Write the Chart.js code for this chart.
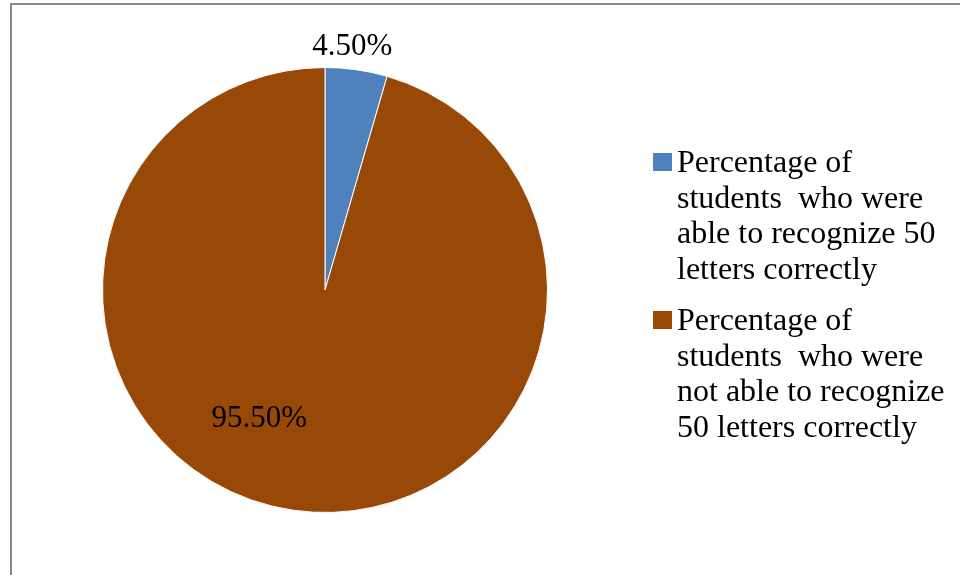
<!DOCTYPE html>
<html>
<head>
<meta charset="utf-8">
<script src="https://cdn.jsdelivr.net/npm/chart.js@4/dist/chart.umd.min.js"></script>
<style>
  html, body { margin: 0; padding: 0; background: #fff; }
  #wrap { position: relative; width: 960px; height: 575px; }
</style>
</head>
<body>
<div id="wrap"><canvas id="chart" width="960" height="575"></canvas></div>
<script>
// Chart data
const categories = [
  ['Percentage of', 'students  who were', 'able to recognize 50', 'letters correctly'],
  ['Percentage of', 'students  who were', 'not able to recognize', '50 letters correctly']
];
const values = [4.5, 95.5];
const valueLabels = ['4.50%', '95.50%'];
const sliceColors = ['#4F81BD', '#984807'];

const SERIF = '"Liberation Serif", "Times New Roman", serif';

// Grey frame line (left and top edges only, the rest is cropped)
const framePlugin = {
  id: 'frame',
  beforeDraw(chart) {
    const ctx = chart.ctx;
    ctx.save();
    ctx.fillStyle = '#888888';
    ctx.fillRect(10, 3, 2, chart.height - 3);
    ctx.fillRect(10, 3, chart.width - 10, 2);
    ctx.restore();
  }
};

// Percentage labels, placed like Excel's best fit
const labelPlugin = {
  id: 'sliceLabels',
  afterDatasetsDraw(chart, args, opts) {
    const ctx = chart.ctx;
    const arcs = chart.getDatasetMeta(0).data;
    ctx.save();
    ctx.font = '31px ' + SERIF;
    ctx.fillStyle = '#000';
    ctx.textAlign = 'center';
    ctx.textBaseline = 'middle';
    arcs.forEach((arc, i) => {
      const p = arc.getProps(['x', 'y', 'startAngle', 'endAngle', 'outerRadius'], true);
      const place = opts.placement[i];
      const mid = (p.startAngle + p.endAngle) / 2;
      const ang = mid + place.shift;
      const r = p.outerRadius * place.radius;
      ctx.fillText(valueLabels[i], p.x + Math.cos(ang) * r, p.y + Math.sin(ang) * r);
    });
    ctx.restore();
  }
};

// Legend on the right with wrapped lines
const legendPlugin = {
  id: 'sideLegend',
  afterDraw(chart, args, opts) {
    const ctx = chart.ctx;
    const ds = chart.data.datasets[0];
    ctx.save();
    ctx.font = '32px ' + SERIF;
    ctx.textAlign = 'left';
    ctx.textBaseline = 'alphabetic';
    let y = opts.top;
    chart.data.labels.forEach((lines, i) => {
      ctx.fillStyle = ds.backgroundColor[i];
      ctx.fillRect(opts.left, y - 19, 19, 18);
      ctx.fillStyle = '#000';
      lines.forEach((line, j) => {
        ctx.fillText(line, opts.left + 24, y + j * opts.lineHeight);
      });
      y += lines.length * opts.lineHeight + opts.gap;
    });
    ctx.restore();
  }
};

new Chart(document.getElementById('chart'), {
  type: 'pie',
  data: {
    labels: categories,
    datasets: [{
      data: values,
      backgroundColor: sliceColors,
      borderColor: '#ffffff',
      borderWidth: 1
    }]
  },
  options: {
    responsive: false,
    animation: false,
    layout: { padding: { left: 102, right: 412, top: 67, bottom: 62 } },
    plugins: {
      legend: { display: false },
      tooltip: { enabled: false },
      sliceLabels: {
        placement: [
          { radius: 1.10, shift: -0.03 },
          { radius: 0.65, shift: 0.33 }
        ]
      },
      sideLegend: { left: 653, top: 172, lineHeight: 35.5, gap: 16 }
    }
  },
  plugins: [framePlugin, labelPlugin, legendPlugin]
});
</script>
</body>
</html>
